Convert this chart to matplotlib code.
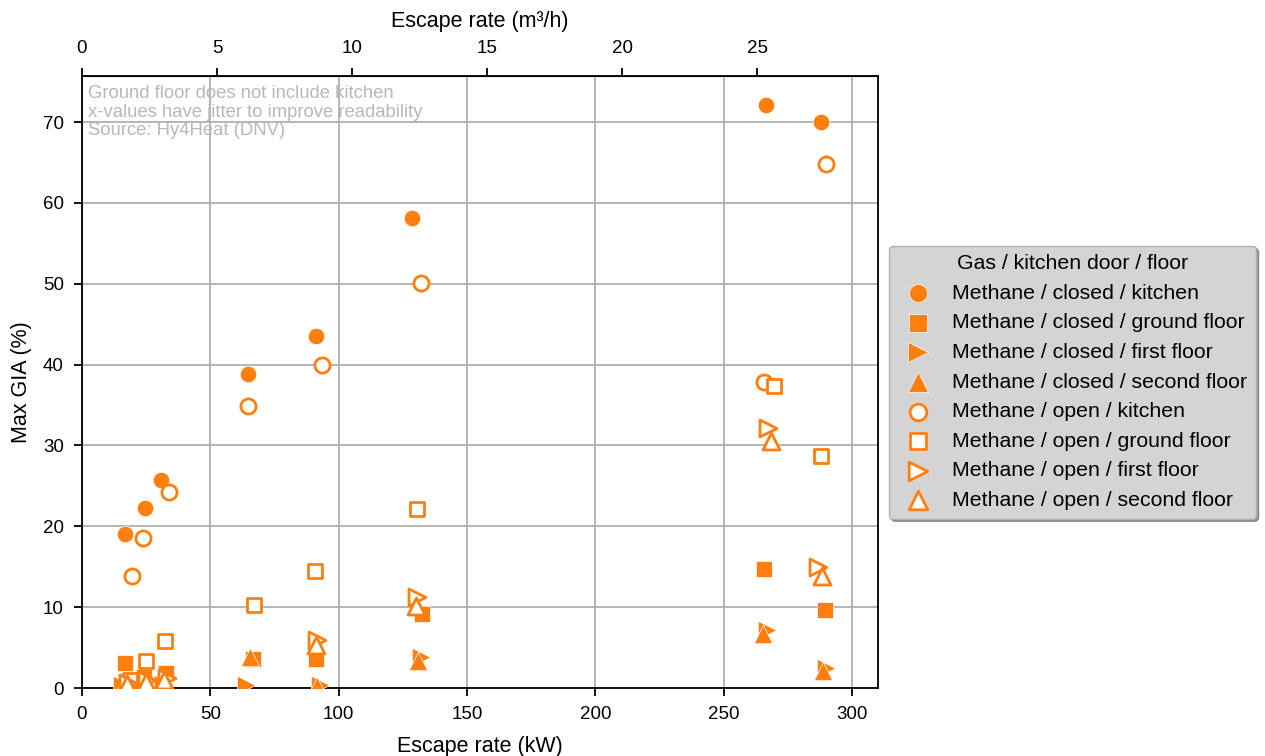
import numpy as np
import matplotlib
matplotlib.use('Agg')
import matplotlib.pyplot as plt

plt.rcParams['font.family'] = ['Liberation Sans', 'DejaVu Sans']

# escape rate (kW, jittered) and max GIA (%) per gas / door / floor combination
closed_kitchen_x = [16.8, 24.5, 30.8, 64.7, 91.2, 128.6, 266.5, 287.9]
closed_kitchen_y = [19.0, 22.3, 25.7, 38.9, 43.5, 58.2, 72.1, 70.0]
closed_ground_x = [16.8, 24.0, 32.7, 66.6, 91.2, 132.5, 265.7, 289.5]
closed_ground_y = [3.1, 1.4, 1.8, 3.6, 3.6, 9.2, 14.7, 9.7]
closed_first_x = [15.6, 23.4, 31.6, 64.0, 92.7, 132.0, 266.9, 289.9]
closed_first_y = [0.4, 0.5, 0.5, 0.4, 0.4, 3.8, 7.2, 2.5]
closed_second_x = [16.0, 22.6, 31.0, 65.5, 91.5, 131.0, 265.3, 288.7]
closed_second_y = [0.2, 0.3, 0.3, 3.9, 0.3, 3.3, 6.7, 2.1]
open_kitchen_x = [19.5, 23.8, 33.9, 64.7, 93.5, 132.1, 265.7, 289.9]
open_kitchen_y = [13.9, 18.5, 24.2, 34.9, 40.0, 50.1, 37.8, 64.8]
open_ground_x = [18.7, 24.9, 32.3, 67.0, 90.8, 130.5, 269.6, 287.9]
open_ground_y = [1.0, 3.3, 5.8, 10.3, 14.5, 22.1, 37.3, 28.7]
open_first_x = [18.0, 25.5, 33.0, np.nan, 91.5, 130.5, 267.3, 286.8]
open_first_y = [0.6, 1.0, 1.2, np.nan, 5.9, 11.3, 32.2, 15.0]
open_second_x = [17.5, 25.0, 32.0, np.nan, 91.0, 130.0, 268.4, 288.3]
open_second_y = [0.5, 0.8, 1.0, np.nan, 5.3, 10.2, 30.5, 13.8]

series = [
    ('Methane / closed / kitchen', closed_kitchen_x, closed_kitchen_y, 'o', True),
    ('Methane / closed / ground floor', closed_ground_x, closed_ground_y, 's', True),
    ('Methane / closed / first floor', closed_first_x, closed_first_y, '>', True),
    ('Methane / closed / second floor', closed_second_x, closed_second_y, '^', True),
    ('Methane / open / kitchen', open_kitchen_x, open_kitchen_y, 'o', False),
    ('Methane / open / ground floor', open_ground_x, open_ground_y, 's', False),
    ('Methane / open / first floor', open_first_x, open_first_y, '>', False),
    ('Methane / open / second floor', open_second_x, open_second_y, '^', False),
]

KW_PER_M3H = 10.52
orange = '#ff7f0e'
sizes = {'o': 140, 's': 125, '>': 175, '^': 175}

fig = plt.figure(figsize=(12.65, 7.56), dpi=100)
ax = fig.add_axes([0.0648, 0.0899, 0.6292, 0.8096])

for label, x, y, m, filled in series:
    if filled:
        ax.scatter(x, y, s=sizes[m], marker=m, color=orange, edgecolors='white',
                   linewidths=0.5, label=label, zorder=3)
    else:
        ax.scatter(x, y, s=sizes[m] * 0.85, marker=m, facecolors='white',
                   edgecolors=orange, linewidths=2, label=label, zorder=3)

ax.set_xlim(0, 310)
ax.set_ylim(0, max(closed_kitchen_y) * 1.05)
ax.grid(True, color='#b0b0b0', linewidth=1.3)
ax.set_axisbelow(True)
for s in ax.spines.values():
    s.set_linewidth(1.3)
ax.tick_params(labelsize=13.5, width=1.3, length=6, pad=7)
ax.set_xlabel('Escape rate (kW)', fontsize=15.5, labelpad=9)
ax.set_ylabel('Max GIA (%)', fontsize=15.5, labelpad=8)

top = ax.secondary_xaxis('top', functions=(lambda v: v / KW_PER_M3H,
                                           lambda v: v * KW_PER_M3H))
top.set_xlabel('Escape rate (m³/h)', fontsize=15.5, labelpad=9)
top.tick_params(labelsize=13.5, width=1.3, length=6, pad=8)

ax.text(0.008, 0.985, 'Ground floor does not include kitchen\n'
        'x-values have jitter to improve readability\nSource: Hy4Heat (DNV)',
        transform=ax.transAxes, va='top', ha='left', fontsize=13.3,
        color='#b8b8b8', linespacing=1.12)

leg = ax.legend(title='Gas / kitchen door / floor', loc='center left',
                bbox_to_anchor=(1.0, 0.5), fontsize=15.3, title_fontsize=15.3,
                facecolor='#d4d4d4', framealpha=1, shadow=True, markerscale=1.1,
                edgecolor='#b0b0b0', handletextpad=0.6, labelspacing=0.5)

fig.savefig('out.png', dpi=100)
